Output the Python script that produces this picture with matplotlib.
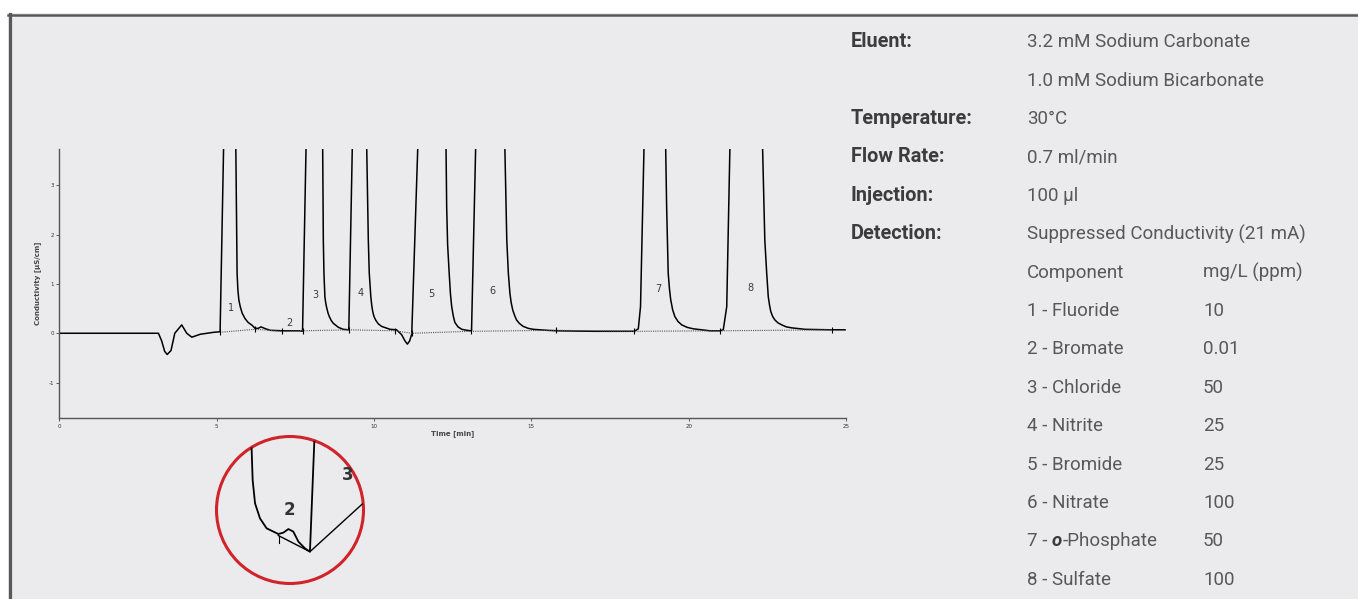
import matplotlib.pyplot as plt
from matplotlib.patches import Rectangle, Circle
from matplotlib.lines import Line2D

plt.rcParams['axes.unicode_minus'] = False

# chromatogram trace: time [min], conductivity [uS/cm]
# (apex points are above the plotted range, the peaks are cut off at the top)
time = [0.0, 3.15, 3.25, 3.35, 3.43, 3.55, 3.67, 3.89, 4.05, 4.21, 4.48, 4.91,
        # peak 1 + small bromate bump
        5.11, 5.22, 5.40, 5.61, 5.63, 5.645, 5.65, 5.675, 5.705, 5.75, 5.81, 5.90, 6.00, 6.13, 6.22,
        6.32, 6.41, 6.52, 6.70, 7.12, 7.65,
        # peak 3
        7.73, 7.84, 8.05, 8.37, 8.39, 8.41, 8.44, 8.47, 8.50, 8.54, 8.58, 8.64, 8.71, 8.87, 9.02, 9.18,
        # peak 4 and the dip
        9.20, 9.31, 9.55, 9.77, 9.82, 9.85, 9.90, 9.93, 9.96, 10.00, 10.06, 10.14, 10.24, 10.51, 10.72,
        10.88, 10.98, 11.06, 11.13, 11.20,
        # peak 5
        11.39, 11.80, 12.29, 12.31, 12.34, 12.39, 12.43, 12.47, 12.52, 12.57, 12.67, 12.79, 12.95, 13.07,
        # peak 6
        13.10, 13.23, 13.70, 14.16, 14.22, 14.27, 14.32, 14.36, 14.41, 14.47, 14.53, 14.62, 14.74, 14.90,
        15.06, 15.49, 15.80, 17.00, 18.27,
        # peak 7
        18.40, 18.47, 18.58, 18.90, 19.27, 19.30, 19.35, 19.39, 19.43, 19.49, 19.56, 19.66, 19.78, 19.95,
        20.15, 20.68, 21.00,
        # peak 8
        21.10, 21.21, 21.31, 21.80, 22.35, 22.42, 22.48, 22.53, 22.57, 22.61, 22.67, 22.74, 22.84, 22.96,
        23.10, 23.27, 23.70, 24.49, 24.97]
cond = [0.0, 0.0, -0.15, -0.37, -0.43, -0.35, 0.0, 0.17, 0.0, -0.08, -0.02, 0.02,
        0.03, 3.74, 8.0, 3.74, 2.57, 1.60, 1.22, 0.88, 0.68, 0.54, 0.41, 0.30, 0.22, 0.16, 0.10,
        0.10, 0.13, 0.10, 0.06, 0.05, 0.05,
        0.04, 3.74, 8.0, 3.74, 1.89, 1.22, 0.74, 0.60, 0.51, 0.41, 0.34, 0.26, 0.20, 0.12, 0.08, 0.07,
        0.07, 3.74, 8.0, 3.74, 1.89, 1.22, 0.74, 0.56, 0.44, 0.34, 0.26, 0.19, 0.14, 0.08, 0.07,
        -0.03, -0.15, -0.22, -0.16, -0.02,
        3.74, 8.0, 3.74, 2.57, 1.80, 1.22, 0.80, 0.54, 0.35, 0.22, 0.13, 0.08, 0.06, 0.05,
        0.05, 3.74, 8.0, 3.74, 1.89, 1.22, 0.81, 0.62, 0.47, 0.36, 0.27, 0.20, 0.14, 0.10,
        0.08, 0.06, 0.05, 0.04, 0.04,
        0.09, 0.54, 3.74, 8.0, 3.74, 2.57, 1.22, 0.90, 0.68, 0.48, 0.34, 0.24, 0.17, 0.12,
        0.09, 0.05, 0.05,
        0.07, 0.54, 3.74, 8.0, 3.74, 1.89, 1.22, 0.74, 0.57, 0.44, 0.34, 0.27, 0.21, 0.17,
        0.13, 0.11, 0.08, 0.07, 0.07]

# integration start/end marks and the dotted baseline between them
event_t = [5.11, 6.22, 7.07, 7.73, 9.20, 10.67, 11.20, 13.08, 15.77, 18.27, 21.01, 24.56]
event_v = [0.02, 0.08, 0.04, 0.05, 0.07, 0.05, 0.0, 0.04, 0.06, 0.04, 0.05, 0.07]

peak_ids = ['1', '2', '3', '4', '5', '6', '7', '8']
peak_label_t = [5.46, 7.31, 8.15, 9.59, 11.81, 13.77, 19.03, 21.95]
peak_label_v = [0.51, 0.20, 0.78, 0.81, 0.79, 0.86, 0.90, 0.91]

x_ticks = [0, 5, 10, 15, 20, 25]
y_ticks = [-1, 0, 1, 2, 3]

# zoomed detail around peak 2 (local units 0-100)
zoom_x = [24.4, 25.1, 26.7, 30.0, 34.4, 42.2, 45.6, 48.9, 52.2, 55.6, 60.0, 63.3, 66.2]
zoom_y = [91.1, 70.0, 54.4, 44.4, 37.8, 34.0, 34.9, 37.3, 35.6, 28.9, 24.4, 22.2, 95.5]
zoom_base_x = [42.2, 63.3, 98.2]
zoom_base_y = [33.0, 22.2, 54.0]

# method conditions
cond_labels = ['Eluent:', '', 'Temperature:', 'Flow Rate:', 'Injection:', 'Detection:']
cond_values = ['3.2 mM Sodium Carbonate', '1.0 mM Sodium Bicarbonate', '30°C',
               '0.7 ml/min', '100 µl', 'Suppressed Conductivity (21 mA)']
components = ['Fluoride', 'Bromate', 'Chloride', 'Nitrite', 'Bromide', 'Nitrate', 'Phosphate', 'Sulfate']
conc = ['10', '0.01', '50', '25', '25', '100', '50', '100']

W, H = 1358, 599
fig = plt.figure(figsize=(W / 100, H / 100), dpi=100, facecolor='white')

# panel background and frame
fig.patches.append(Rectangle((8 / W, 0), 1, 1 - 13 / H, transform=fig.transFigure,
                             facecolor='#ebebed', edgecolor='none', zorder=-10))
fig.lines.append(Line2D([8 / W, 1], [1 - 14.5 / H, 1 - 14.5 / H], transform=fig.transFigure,
                        color='#58585a', lw=1.8))
fig.lines.append(Line2D([9.6 / W, 9.6 / W], [0, 1 - 13.5 / H], transform=fig.transFigure,
                        color='#58585a', lw=2.3))

ax = fig.add_axes([59.3 / W, 1 - 418 / H, (846 - 59.3) / W, (418 - 149) / H])
ax.set_facecolor('none')
ax.plot(time, cond, color='black', lw=1.1)
ax.plot(event_t, event_v, color='#555555', lw=0.8, ls=(0, (1, 1)))
ax.plot(event_t, event_v, ls='none', marker='|', color='black', markersize=5, markeredgewidth=0.8)
for lab, t, v in zip(peak_ids, peak_label_t, peak_label_v):
    ax.text(t, v, lab, fontsize=7, color='#3a3a3a', ha='center', va='center')

ax.set_xlim(0, 25)
ax.set_ylim(-1.72, 3.74)
ax.set_xticks(x_ticks)
ax.set_yticks(y_ticks)
ax.tick_params(labelsize=4, length=2, width=0.6, color='#444444', labelcolor='#333333', pad=2)
for s in ['top', 'right']:
    ax.spines[s].set_visible(False)
for s in ['left', 'bottom']:
    ax.spines[s].set_color('#555555')
    ax.spines[s].set_linewidth(1.0)
ax.set_xlabel('Time [min]', fontsize=5, color='#444444', fontweight='bold', labelpad=1)
ax.set_ylabel('Conductivity [µS/cm]', fontsize=5, color='#444444', fontweight='bold', labelpad=5)

# circle with the bromate detail
ins = fig.add_axes([215 / W, 1 - 585 / H, 150 / W, 150 / H])
ins.set_xlim(0, 100)
ins.set_ylim(0, 100)
ins.axis('off')
ins.add_patch(Circle((50, 50), 49, facecolor='none', edgecolor='#d1232a', lw=2.2))
ins.plot(zoom_x, zoom_y, color='black', lw=1.3)
ins.plot(zoom_base_x, zoom_base_y, color='black', lw=1.0)
ins.plot([42.7, 42.7], [33.0, 28.0], color='black', lw=0.8)
ins.text(49.5, 50, '2', fontsize=12, fontweight='bold', color='#333333', ha='center', va='center')
ins.text(88.5, 73.5, '3', fontsize=12, fontweight='bold', color='#333333', ha='center', va='center')

# conditions table on the right
font = ['Roboto', 'DejaVu Sans']
fs = 13.5


def row_y(i):
    return 1 - (47.3 + 38.4 * i) / H


for i, (lab, val) in enumerate(zip(cond_labels, cond_values)):
    fig.text(851 / W, row_y(i), lab, family=font, fontsize=14.3, fontweight='bold',
             color='#3c3c3e', va='baseline')
    fig.text(1027 / W, row_y(i), val, family=font, fontsize=fs, color='#58585a', va='baseline')

fig.text(1027 / W, row_y(6), 'Component', family=font, fontsize=fs, color='#58585a', va='baseline')
fig.text(1203 / W, row_y(6), 'mg/L (ppm)', family=font, fontsize=fs, color='#58585a', va='baseline')
for k, (name, c) in enumerate(zip(components, conc)):
    y = row_y(7 + k)
    if name == 'Phosphate':
        t1 = fig.text(1027 / W, y, f'{k + 1} - ', family=font, fontsize=fs, color='#58585a', va='baseline')
        t2 = fig.text(0, 0, 'o', family=font, fontsize=fs, color='#3c3c3e', fontweight='bold',
                      fontstyle='italic', va='baseline')
        fig.canvas.draw()
        bb = t1.get_window_extent()
        t2.set_position((bb.x1 / W, y))
        fig.canvas.draw()
        bb2 = t2.get_window_extent()
        fig.text(bb2.x1 / W, y, '-' + name, family=font, fontsize=fs, color='#58585a', va='baseline')
    else:
        fig.text(1027 / W, y, f'{k + 1} - {name}', family=font, fontsize=fs, color='#58585a', va='baseline')
    fig.text(1203 / W, y, c, family=font, fontsize=fs, color='#58585a', va='baseline')

fig.savefig('out.png', dpi=100, facecolor=fig.get_facecolor())
